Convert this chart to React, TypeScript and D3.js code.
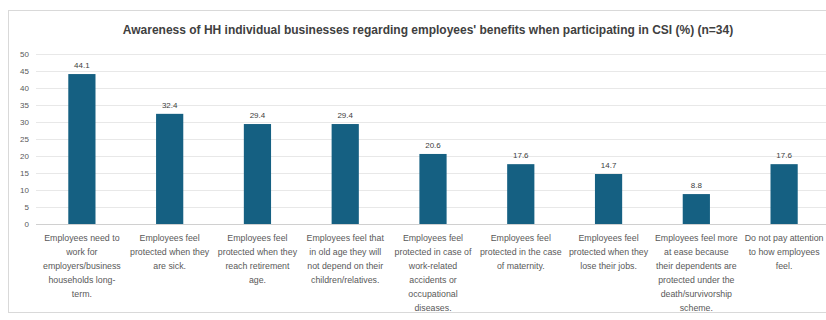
import React from "react";
import * as d3 from "d3";

const title =
  "Awareness of HH individual businesses regarding employees' benefits when participating in CSI (%) (n=34)";

const categories = [
  "Employees need to\nwork for\nemployers/business\nhouseholds long-\nterm.",
  "Employees feel\nprotected when they\nare sick.",
  "Employees feel\nprotected when they\nreach retirement\nage.",
  "Employees feel that\nin old age they will\nnot depend on their\nchildren/relatives.",
  "Employees feel\nprotected in case of\nwork-related\naccidents or\noccupational\ndiseases.",
  "Employees feel\nprotected in the case\nof maternity.",
  "Employees feel\nprotected when they\nlose their jobs.",
  "Employees feel more\nat ease because\ntheir dependents are\nprotected under the\ndeath/survivorship\nscheme.",
  "Do not pay attention\nto how employees\nfeel.",
];

const values = [44.1, 32.4, 29.4, 29.4, 20.6, 17.6, 14.7, 8.8, 17.6];

const yTicks = [0, 5, 10, 15, 20, 25, 30, 35, 40, 45, 50];

const W = 826;
const H = 320;
const FONT = "'Liberation Sans', Arial, sans-serif";

export default function App() {
  const x = d3
    .scaleBand<number>()
    .domain(categories.map((_, i) => i))
    .range([38, 828])
    .paddingInner(0.69)
    .paddingOuter(0.345);
  const y = d3.scaleLinear().domain([0, 50]).range([224, 54]);

  return (
    <svg
      width={W}
      height={H}
      style={{ position: "absolute", left: 0, top: 0, background: "#fff" }}
      fontFamily={FONT}
    >
      <rect x={8.5} y={10.5} width={830} height={302} fill="none" stroke="#d9d9d9" />
      <text
        x={428}
        y={34}
        textAnchor="middle"
        fontSize={12}
        fontWeight="bold"
        fill="#404040"
      >
        {title}
      </text>
      {yTicks.map((t) => (
        <g key={t}>
          <line
            x1={36}
            x2={826}
            y1={Math.round(y(t)) + 0.5}
            y2={Math.round(y(t)) + 0.5}
            stroke={t === 0 ? "#d0d0d0" : "#e8e8e8"}
          />
          <text
            x={29}
            y={y(t) + 3}
            textAnchor="end"
            fontSize={8}
            fill="#595959"
          >
            {t}
          </text>
        </g>
      ))}
      {values.map((v, i) => {
        const bx = x(i)!;
        const bw = x.bandwidth();
        return (
          <g key={i}>
            <rect x={bx} y={y(v)} width={bw} height={y(0) - y(v)} fill="#156082" />
            <text
              x={bx + bw / 2}
              y={y(v) - 6}
              textAnchor="middle"
              fontSize={8}
              fill="#404040"
            >
              {v.toFixed(1)}
            </text>
          </g>
        );
      })}
      {categories.map((c, i) => {
        const cx = x(i)! + x.bandwidth() / 2;
        return (
          <text key={i} textAnchor="middle" fontSize={8.8} fill="#595959">
            {c.split("\n").map((line, j) => (
              <tspan key={j} x={cx} y={241 + j * 14}>
                {line}
              </tspan>
            ))}
          </text>
        );
      })}
    </svg>
  );
}
